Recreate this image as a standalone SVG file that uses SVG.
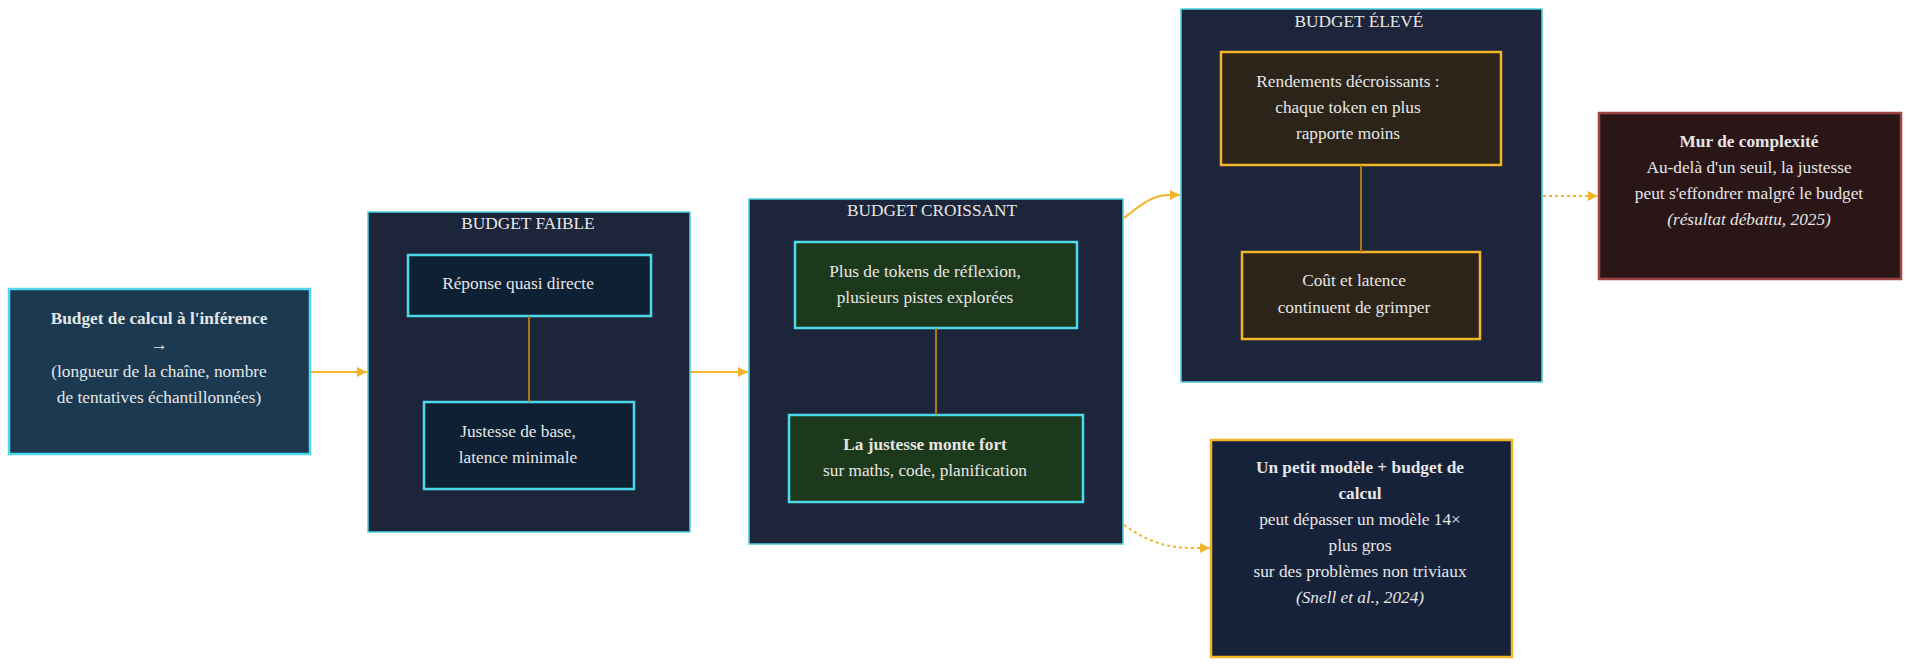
<svg xmlns="http://www.w3.org/2000/svg" width="1920" height="670" viewBox="0 0 1920 670">
<defs>
<style>
text{font-family:"Liberation Serif","Times New Roman",serif;font-size:17.3px;fill:#e6e6e6;text-anchor:middle}
.b{font-weight:bold}
.i{font-style:italic}
.cl{fill:#1c2539;stroke:#4dd0e1;stroke-width:1.5}
.ttl{fill:#e8e8e8}
.nf{fill:#0e2033;stroke:#4dd9ea;stroke-width:2.5}
.nc{fill:#1d391b;stroke:#4dd9ea;stroke-width:2.5}
.ne{fill:#2c2418;stroke:#f2b52a;stroke-width:2.5}
.link{stroke:#b8860b;stroke-width:1.8;fill:none}
.ed{stroke:#f2b52a;stroke-width:2;fill:none}
.dot{stroke-dasharray:3 3}
</style>
<marker id="ah" viewBox="0 0 10 10" refX="10" refY="5" markerWidth="10" markerHeight="10" markerUnits="userSpaceOnUse" orient="auto">
<path d="M0,0 L10,5 L0,10 z" fill="#f2b52a"/>
</marker>
</defs>
<rect width="1920" height="670" fill="#ffffff"/>

<g id="input">
<rect x="9" y="289" width="301" height="165" fill="#1b3a52" stroke="#4dd9ea" stroke-width="2.5"/>
<text x="159" y="324" class="b">Budget de calcul à l'inférence</text>
<text x="159" y="350">→</text>
<text x="159" y="377">(longueur de la chaîne, nombre</text>
<text x="159" y="403">de tentatives échantillonnées)</text>
</g>

<g id="cluster-faible">
<rect x="368" y="212" width="322" height="320" class="cl"/>
<text x="528" y="229" class="ttl">BUDGET FAIBLE</text>
</g>
<g id="faible-1">
<rect x="408" y="255" width="243" height="61" class="nf"/>
<text x="518" y="289">Réponse quasi directe</text>
</g>
<g id="faible-2">
<rect x="424" y="402" width="210" height="87" class="nf"/>
<text x="518" y="437">Justesse de base,</text>
<text x="518" y="463">latence minimale</text>
</g>

<g id="cluster-croissant">
<rect x="749" y="199" width="374" height="345" class="cl"/>
<text x="932" y="216" class="ttl">BUDGET CROISSANT</text>
</g>
<g id="croissant-1">
<rect x="795" y="242" width="282" height="86" class="nc"/>
<text x="925" y="277">Plus de tokens de réflexion,</text>
<text x="925" y="303">plusieurs pistes explorées</text>
</g>
<g id="croissant-2">
<rect x="789" y="415" width="294" height="87" class="nc"/>
<text x="925" y="450" class="b">La justesse monte fort</text>
<text x="925" y="476">sur maths, code, planification</text>
</g>

<g id="cluster-eleve">
<rect x="1181" y="9" width="361" height="373" class="cl"/>
<text x="1359" y="27" class="ttl">BUDGET ÉLEVÉ</text>
</g>
<g id="eleve-1">
<rect x="1221" y="52" width="280" height="113" class="ne"/>
<text x="1348" y="87">Rendements décroissants :</text>
<text x="1348" y="113">chaque token en plus</text>
<text x="1348" y="139">rapporte moins</text>
</g>
<g id="eleve-2">
<rect x="1242" y="252" width="238" height="87" class="ne"/>
<text x="1354" y="286">Coût et latence</text>
<text x="1354" y="313">continuent de grimper</text>
</g>

<g id="snell">
<rect x="1211" y="440" width="301" height="217" fill="#16213a" stroke="#f2b52a" stroke-width="2.5"/>
<text x="1360" y="473" class="b">Un petit modèle + budget de</text>
<text x="1360" y="499" class="b">calcul</text>
<text x="1360" y="525">peut dépasser un modèle 14×</text>
<text x="1360" y="551">plus gros</text>
<text x="1360" y="577">sur des problèmes non triviaux</text>
<text x="1360" y="603" class="i">(Snell et al., 2024)</text>
</g>

<g id="mur">
<rect x="1599" y="113" width="302" height="166" fill="#2a1617" stroke="#9e4444" stroke-width="2.5"/>
<text x="1749" y="147" class="b">Mur de complexité</text>
<text x="1749" y="173">Au-delà d'un seuil, la justesse</text>
<text x="1749" y="199">peut s'effondrer malgré le budget</text>
<text x="1749" y="225" class="i">(résultat débattu, 2025)</text>
</g>

<g id="connectors">
<line x1="529" y1="316" x2="529" y2="402" class="link"/>
<line x1="936" y1="328" x2="936" y2="415" class="link"/>
<line x1="1361" y1="165" x2="1361" y2="252" class="link"/>
<path d="M311,372 L367,372" class="ed" marker-end="url(#ah)"/>
<path d="M691,372 L748,372" class="ed" marker-end="url(#ah)"/>
<path d="M1124,218 C1142,204 1152,195 1170,195 L1180,195" class="ed" marker-end="url(#ah)"/>
<path d="M1124,525 C1150,543 1168,548 1195,548 L1210,548" class="ed dot" marker-end="url(#ah)"/>
<path d="M1543,196 L1598,196" class="ed dot" marker-end="url(#ah)"/>
</g>
</svg>
